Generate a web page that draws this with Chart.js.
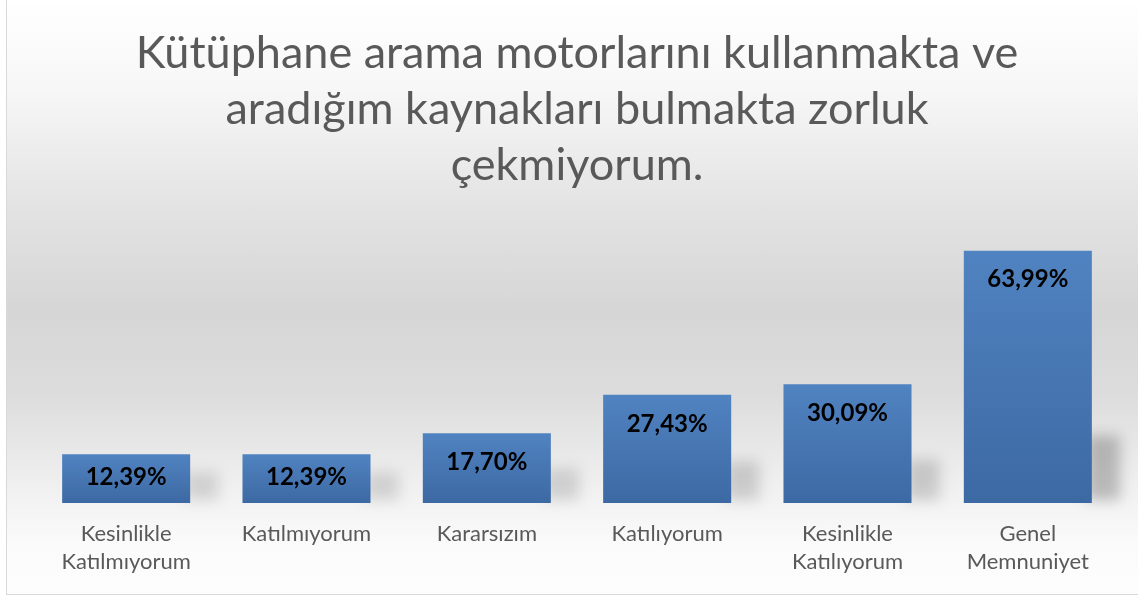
<!DOCTYPE html>
<html lang="tr">
  <head>
    <meta charset="UTF-8" />
    <title>Kütüphane arama motorları</title>
    <script src="https://cdn.jsdelivr.net/npm/chart.js"></script>
    <style>
      html, body {
        margin: 0;
        padding: 0;
        background: #ffffff;
      }
      .chart-box {
        position: absolute;
        left: 6px;
        top: 0;
        width: 1131px;
        height: 594px;
        border-left: 1px solid #d9d9d9;
        border-bottom: 1px solid #d9d9d9;
        background: linear-gradient(
          to bottom,
          #ffffff 0%,
          #f7f7f7 15%,
          #e3e3e3 35%,
          #d6d6d6 52%,
          #dcdcdc 66%,
          #f0f0f0 82%,
          #fbfbfb 92%,
          #fdfdfd 100%
        );
      }
    </style>
  </head>
  <body>
    <div class="chart-box">
      <canvas id="surveyChart"></canvas>
    </div>

    <script>
      const titleLines = [
        "Kütüphane arama motorlarını kullanmakta ve",
        "aradığım kaynakları bulmakta zorluk",
        "çekmiyorum.",
      ];
      const categories = [
        ["Kesinlikle", "Katılmıyorum"],
        "Katılmıyorum",
        "Kararsızım",
        "Katılıyorum",
        ["Kesinlikle", "Katılıyorum"],
        ["Genel", "Memnuniyet"],
      ];
      const percentages = [12.39, 12.39, 17.7, 27.43, 30.09, 63.99];

      const fmt = (v) => v.toFixed(2).replace(".", ",") + "%";

      // vertical gradient for each bar, from its own top down to the axis
      function barFill(ctx) {
        const chart = ctx.chart;
        const y = chart.scales.y;
        if (!y || ctx.dataIndex === undefined) return "#4a78b4";
        const top = y.getPixelForValue(percentages[ctx.dataIndex]);
        const base = y.getPixelForValue(0);
        if (!Number.isFinite(top) || !Number.isFinite(base) || top === base) return "#4a78b4";
        const g = chart.ctx.createLinearGradient(0, top, 0, base);
        g.addColorStop(0, "#5083c1");
        g.addColorStop(1, "#3d69a3");
        return g;
      }

      // soft shadow cast to the lower right of each bar
      const barShadows = {
        id: "barShadows",
        beforeDatasetsDraw(chart) {
          const ctx = chart.ctx;
          const meta = chart.getDatasetMeta(0);
          ctx.save();
          ctx.filter = "blur(7px)";
          meta.data.forEach((bar) => {
            const h = bar.base - bar.y;
            const sh = 22 + h * 0.18;
            const right = bar.x + bar.width / 2;
            ctx.fillStyle = "rgba(0,0,0," + (0.1 + h * 0.0005) + ")";
            ctx.fillRect(right - 6, bar.base - sh, 34, sh - 3);
          });
          ctx.restore();
        },
      };

      // percentage written inside the top of each bar (centred on short bars)
      const valueLabels = {
        id: "valueLabels",
        afterDatasetsDraw(chart) {
          const ctx = chart.ctx;
          const meta = chart.getDatasetMeta(0);
          ctx.save();
          ctx.font = "bold 24px Lato";
          ctx.fillStyle = "#000000";
          ctx.textAlign = "center";
          ctx.textBaseline = "middle";
          meta.data.forEach((bar, i) => {
            const h = bar.base - bar.y;
            const offset = Math.min(29, h / 2 - 1);
            ctx.fillText(fmt(percentages[i]), bar.x, bar.y + offset);
          });
          ctx.restore();
        },
      };

      new Chart(document.getElementById("surveyChart").getContext("2d"), {
        type: "bar",
        data: {
          labels: categories,
          datasets: [
            {
              data: percentages,
              backgroundColor: barFill,
              borderWidth: 0,
              categoryPercentage: 1,
              barPercentage: 0.71,
            },
          ],
        },
        options: {
          responsive: true,
          maintainAspectRatio: false,
          animation: false,
          layout: {
            padding: { left: 29, right: 20, top: 0, bottom: 1 },
          },
          plugins: {
            legend: { display: false },
            tooltip: { enabled: false },
            title: {
              display: true,
              text: titleLines,
              color: "#595959",
              font: { family: "Lato", size: 45, weight: "normal", lineHeight: "56px" },
              padding: { top: 25, bottom: 34 },
            },
          },
          scales: {
            x: {
              grid: { display: false, drawTicks: false },
              border: { display: false },
              ticks: {
                color: "#595959",
                font: { family: "Lato", size: 22, lineHeight: "28px" },
                padding: 17,
                maxRotation: 0,
                autoSkip: false,
              },
            },
            y: {
              display: false,
              min: 0,
              max: 70,
            },
          },
        },
        plugins: [barShadows, valueLabels],
      });
    </script>
  </body>
</html>
